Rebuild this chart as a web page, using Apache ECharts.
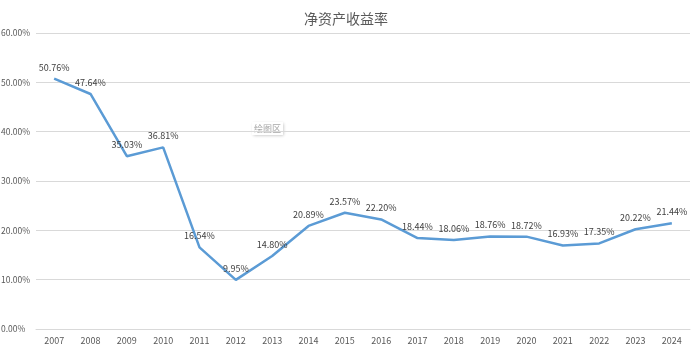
<!DOCTYPE html>
<html>
<head>
<meta charset="utf-8">
<script src="https://cdn.jsdelivr.net/npm/echarts@6/dist/echarts.min.js"></script>
<style>
  html, body { margin: 0; padding: 0; background: #fff; }
  #chart { width: 692px; height: 352px; }
</style>
</head>
<body>
<div id="chart"></div>
<script>
// 年份与净资产收益率(%)
const years = ['2007', '2008', '2009', '2010', '2011', '2012', '2013', '2014', '2015',
  '2016', '2017', '2018', '2019', '2020', '2021', '2022', '2023', '2024'];
const roe = [50.76, 47.64, 35.03, 36.81, 16.54, 9.95, 14.80, 20.89, 23.57,
  22.20, 18.44, 18.06, 18.76, 18.72, 16.93, 17.35, 20.22, 21.44];

const chart = echarts.init(document.getElementById('chart'));
const font = 'Microsoft YaHei, "Noto Sans CJK SC", sans-serif';

chart.setOption({
  animation: false,
  title: {
    text: '净资产收益率',
    left: 'center',
    top: 7,
    textStyle: { fontSize: 14, fontWeight: 'normal', color: '#595959', fontFamily: font }
  },
  grid: { left: 36, right: 2, top: 33, bottom: 23, outerBoundsMode: 'none' },
  xAxis: {
    type: 'category',
    data: years,
    boundaryGap: true,
    axisLine: { show: true, lineStyle: { color: '#d9d9d9' } },
    axisTick: { show: false },
    axisLabel: { color: '#595959', fontSize: 9, margin: 7, fontFamily: font }
  },
  yAxis: {
    type: 'value',
    min: 0,
    max: 60,
    interval: 10,
    axisLine: { show: false },
    axisTick: { show: false },
    splitLine: { lineStyle: { color: '#d9d9d9' } },
    axisLabel: {
      color: '#595959', fontSize: 8.5, margin: 35, align: 'left', fontFamily: font,
      formatter: v => v.toFixed(2) + '%'
    }
  },
  series: [{
    type: 'line',
    data: roe,
    symbol: 'circle',
    symbolSize: 2,
    showSymbol: true,
    itemStyle: { color: 'rgba(0,0,0,0)', borderWidth: 0 },
    lineStyle: { color: '#5b9bd5', width: 2.5 },
    label: {
      show: true,
      position: 'top',
      distance: 6,
      color: '#404040',
      fontSize: 9,
      fontFamily: font,
      formatter: p => p.value.toFixed(2) + '%'
    }
  }],
  graphic: [{
    type: 'text',
    left: 252,
    top: 122,
    style: {
      text: '绘图区',
      fontSize: 9,
      fill: '#a6a6a6',
      fontFamily: font,
      backgroundColor: '#fff',
      padding: [2, 2],
      shadowBlur: 3,
      shadowColor: 'rgba(0,0,0,0.25)',
      shadowOffsetX: 1,
      shadowOffsetY: 1
    }
  }]
});
</script>
</body>
</html>
